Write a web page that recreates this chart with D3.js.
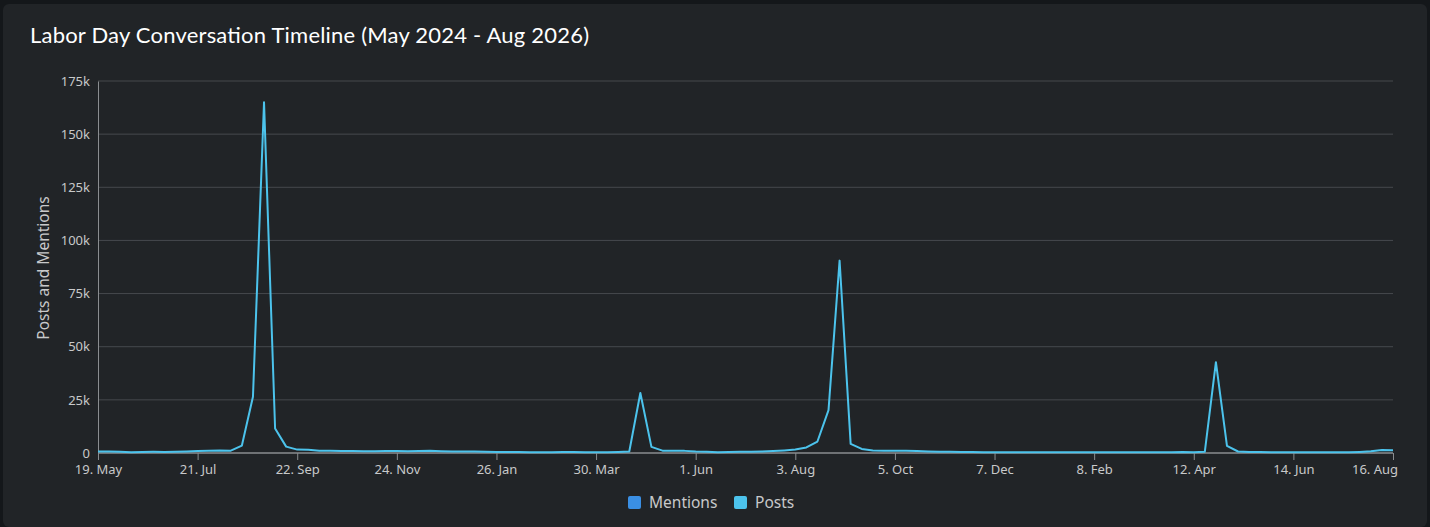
<!DOCTYPE html>
<html>
<head>
<meta charset="utf-8">
<script src="https://cdn.jsdelivr.net/npm/d3@7"></script>
<style>
  html, body { margin: 0; padding: 0; background: #14171a; }
  #card {
    position: absolute; left: 3px; top: 4px; width: 1424px; height: 523px;
    background: #212427; border-radius: 6px;
  }
  svg { position: absolute; left: 0; top: 0; }
</style>
</head>
<body>
<div id="card"></div>
<svg id="chart" width="1430" height="527"></svg>
<script>
// weekly buckets, first week starts 19 May 2024
var startDate = "2024-05-19";
var posts = [
  700, 650, 550, 400, 500, 550, 500, 600, 700, 900,
  1100, 1200, 1100, 3500, 26500, 165000, 11500, 3000, 1600, 1500,
  1100, 1000, 900, 900, 800, 800, 900, 900, 800, 900,
  1000, 800, 700, 700, 700, 600, 500, 500, 500, 400,
  400, 400, 500, 500, 400, 400, 400, 500, 700, 28200,
  2900, 1100, 1000, 1000, 700, 600, 400, 500, 600, 600,
  700, 900, 1200, 1600, 2600, 5400, 20200, 90500, 4300, 1900,
  1200, 1000, 1000, 1000, 900, 700, 600, 600, 500, 500,
  400, 400, 400, 300, 300, 300, 300, 400, 300, 300,
  300, 300, 300, 300, 300, 300, 400, 400, 500, 400,
  600, 42700, 3400, 700, 500, 500, 400, 400, 400, 400,
  400, 300, 300, 300, 500, 800, 1400, 1300
];
var yTicks = [0, 25000, 50000, 75000, 100000, 125000, 150000, 175000];
var seriesNames = ["Mentions", "Posts"];
var seriesColors = ["#3a8fe4", "#4cc3ec"];

var svg = d3.select("#chart");
var m = { left: 98, right: 1393, top: 81, bottom: 453 };

var t0 = new Date(startDate + "T00:00:00Z");
var dates = posts.map(function(v, i) { return d3.utcDay.offset(t0, i * 7); });
var data = posts.map(function(v, i) { return { date: dates[i], value: v }; });

var x = d3.scaleUtc().domain([dates[0], dates[dates.length - 1]]).range([m.left, m.right]);
var y = d3.scaleLinear().domain([0, 175000]).range([m.bottom, m.top]);

// title
svg.append("text")
  .attr("x", 30).attr("y", 43)
  .attr("fill", "#ffffff")
  .attr("textLength", 559).attr("lengthAdjust", "spacing")
  .style("font-family", "Lato, sans-serif")
  .style("font-size", "22px")
  .style("font-weight", 400)
  .text("Labor Day Conversation Timeline (May 2024 - Aug 2026)");

// grid
svg.append("g").selectAll("line").data(yTicks.slice(1)).join("line")
  .attr("x1", m.left).attr("x2", m.right)
  .attr("y1", function(d) { return y(d); }).attr("y2", function(d) { return y(d); })
  .attr("stroke", "#46494d").attr("stroke-width", 1);

// y axis
var yAxis = svg.append("g").attr("transform", "translate(" + m.left + ",0)")
  .call(d3.axisLeft(y).tickValues(yTicks).tickSize(0).tickPadding(8)
    .tickFormat(function(d) { return d === 0 ? "0" : (d / 1000) + "k"; }));
yAxis.select(".domain").attr("stroke", "#8a8d90");
yAxis.selectAll("text").attr("fill", "#c8c9ca")
  .style("font-family", "'Noto Sans', sans-serif").style("font-size", "13px");

svg.append("text")
  .attr("transform", "translate(49," + ((m.top + m.bottom) / 2 + 1) + ") rotate(-90)")
  .attr("text-anchor", "middle")
  .attr("fill", "#c8c9ca")
  .style("font-family", "'Noto Sans', sans-serif").style("font-size", "15.5px")
  .text("Posts and Mentions");

// x axis, tick every 9 weeks
var xTickDates = dates.filter(function(d, i) { return i % 9 === 0; });
var fmt = d3.utcFormat("%-d. %b");
var xAxis = svg.append("g").attr("transform", "translate(0," + m.bottom + ")")
  .call(d3.axisBottom(x).tickValues(xTickDates).tickSize(7).tickPadding(5).tickFormat(fmt));
xAxis.select(".domain").attr("stroke", "#8a8d90").attr("stroke-width", 1.5)
  .attr("d", "M" + m.left + ",0H" + m.right);
xAxis.selectAll(".tick line").attr("stroke", "#8a8d90");
xAxis.selectAll("text").attr("fill", "#c8c9ca")
  .style("font-family", "'Noto Sans', sans-serif").style("font-size", "13px");
// last label shifted left so it stays inside the plot
xAxis.selectAll(".tick text").filter(function(d, i, n) { return i === n.length - 1; })
  .attr("text-anchor", "end").attr("dx", "0.35em");

// posts line
var line = d3.line()
  .x(function(d) { return x(d.date); })
  .y(function(d) { return y(d.value); });
svg.append("path").datum(data)
  .attr("d", line)
  .attr("fill", "none")
  .attr("stroke", seriesColors[1])
  .attr("stroke-width", 2)
  .attr("stroke-linejoin", "round");

// legend
var legendX = [628, 734];
var lg = svg.append("g").selectAll("g").data(seriesNames).join("g")
  .attr("transform", function(d, i) { return "translate(" + legendX[i] + ",496)"; });
lg.append("rect").attr("width", 13).attr("height", 13).attr("rx", 2)
  .attr("fill", function(d, i) { return seriesColors[i]; });
lg.append("text").attr("x", 21).attr("y", 12)
  .attr("fill", "#c8c9ca")
  .style("font-family", "'Noto Sans', sans-serif").style("font-size", "15.5px")
  .text(function(d) { return d; });
</script>
</body>
</html>
